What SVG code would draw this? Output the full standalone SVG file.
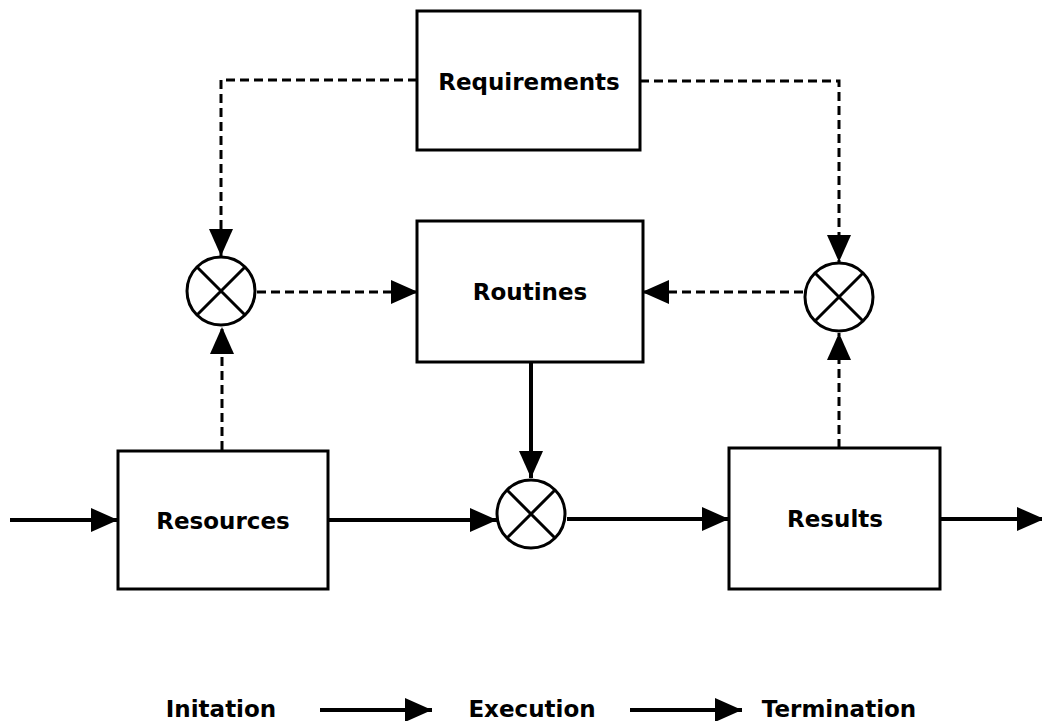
<svg xmlns="http://www.w3.org/2000/svg" width="1042" height="721" viewBox="0 0 1042 721">
<style>
.box{fill:#fff;stroke:#000;stroke-width:3}
.lbl{font-family:"DejaVu Sans",Verdana,sans-serif;font-weight:bold;font-size:23px;fill:#000;text-anchor:middle}
.sum{fill:#fff;stroke:#000;stroke-width:3}
.x{stroke:#000;stroke-width:3}
.solid{fill:none;stroke:#000;stroke-width:4;marker-end:url(#ah)}
.dash{fill:none;stroke:#000;stroke-width:3;stroke-dasharray:9 5;marker-end:url(#ah)}
</style>
<defs>
<marker id="ah" markerUnits="userSpaceOnUse" markerWidth="28" markerHeight="26" refX="27" refY="12" orient="auto">
<path d="M0,0 L27,12 L0,24 z" fill="#000"/>
</marker>
</defs>
<rect width="1042" height="721" fill="#fff"/>
<g id="connectors">
<path class="solid" d="M10,520 H118"/>
<path class="solid" d="M328,520 H497"/>
<path class="solid" d="M567,519 H729"/>
<path class="solid" d="M940,519 H1044"/>
<path class="solid" d="M531,362 V478"/>
<path class="dash" d="M222,450 V327"/>
<path class="dash" d="M257,292 H418"/>
<path class="dash" d="M417,80 H221 V256"/>
<path class="dash" d="M640,81 H839 V262"/>
<path class="dash" d="M803,292 H642"/>
<path class="dash" d="M839,448 V333"/>
</g>
<g id="requirements">
<rect class="box" x="417" y="11" width="223" height="139"/>
<text class="lbl" x="529" y="90">Requirements</text>
</g>
<g id="routines">
<rect class="box" x="417" y="221" width="226" height="141"/>
<text class="lbl" x="530" y="300">Routines</text>
</g>
<g id="resources">
<rect class="box" x="118" y="451" width="210" height="138"/>
<text class="lbl" x="223" y="529">Resources</text>
</g>
<g id="results">
<rect class="box" x="729" y="448" width="211" height="141"/>
<text class="lbl" x="835" y="527">Results</text>
</g>
<g id="sum-left">
<circle class="sum" cx="221" cy="291" r="34"/>
<path class="x" d="M197,267 L245,315 M245,267 L197,315"/>
</g>
<g id="sum-middle">
<circle class="sum" cx="531" cy="514" r="34"/>
<path class="x" d="M507,490 L555,538 M555,490 L507,538"/>
</g>
<g id="sum-right">
<circle class="sum" cx="839" cy="297" r="34"/>
<path class="x" d="M815,273 L863,321 M863,273 L815,321"/>
</g>
<g id="legend">
<text class="lbl" x="221" y="717">Initation</text>
<path class="solid" d="M320,710 H432"/>
<text class="lbl" x="532" y="717">Execution</text>
<path class="solid" d="M630,710 H742"/>
<text class="lbl" x="839" y="717">Termination</text>
</g>
</svg>
